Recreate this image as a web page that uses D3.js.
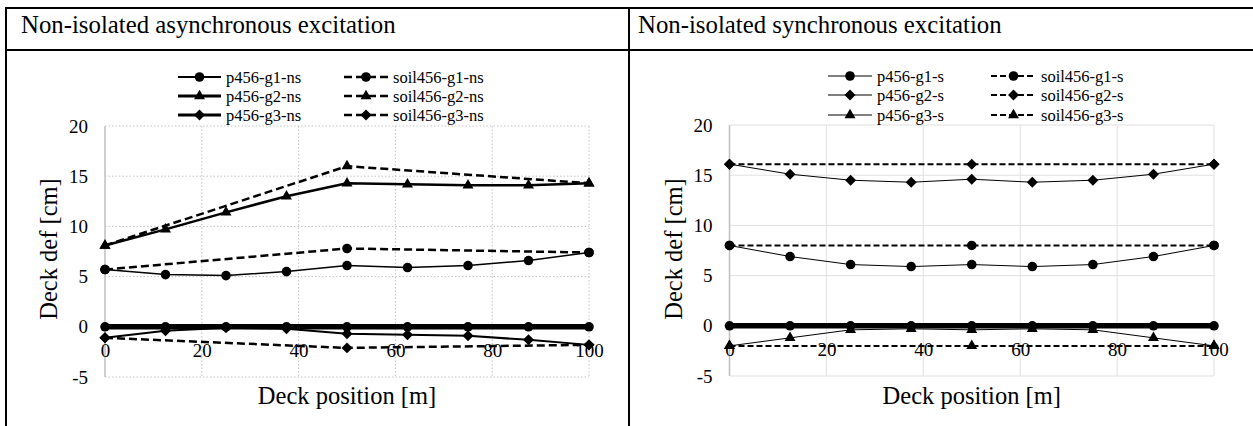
<!DOCTYPE html>
<html>
<head>
<meta charset="utf-8">
<script src="https://cdn.jsdelivr.net/npm/d3@7"></script>
<style>
  html, body { margin: 0; padding: 0; background: #fff; }
  svg { display: block; }
  svg text { font-family: "Liberation Serif", "Times New Roman", "DejaVu Serif", serif; fill: #000; }
</style>
</head>
<body>
<svg id="chart" width="1253" height="426"></svg>
<script>
// ---------- DATA ----------
const panelTitles = ["Non-isolated asynchronous excitation", "Non-isolated synchronous excitation"];
const deckPositions = [0, 12.5, 25, 37.5, 50, 62.5, 75, 87.5, 100];
const soilPositions = [0, 50, 100];
const xTicks = [0, 20, 40, 60, 80, 100];
const yTicks = [-5, 0, 5, 10, 15, 20];
const xTitle = "Deck position [m]";
const yTitle = "Deck def [cm]";

// asynchronous
const p456_g1_ns = [5.7, 5.2, 5.1, 5.5, 6.1, 5.9, 6.1, 6.6, 7.4];
const p456_g2_ns = [8.1, 9.7, 11.4, 13.0, 14.3, 14.2, 14.1, 14.1, 14.3];
const p456_g3_ns = [-1.1, -0.4, -0.1, -0.2, -0.7, -0.8, -0.9, -1.3, -1.8];
const soil456_g1_ns = [5.7, 7.8, 7.4];
const soil456_g2_ns = [8.1, 16.0, 14.3];
const soil456_g3_ns = [-1.1, -2.1, -1.8];
const zero_ns = [0, 0, 0, 0, 0, 0, 0, 0, 0];

// synchronous
const p456_g1_s = [8.0, 6.9, 6.1, 5.9, 6.1, 5.9, 6.1, 6.9, 8.0];
const p456_g2_s = [16.1, 15.1, 14.5, 14.3, 14.6, 14.3, 14.5, 15.1, 16.1];
const p456_g3_s = [-2.0, -1.2, -0.4, -0.3, -0.4, -0.3, -0.4, -1.2, -2.0];
const soil456_g1_s = [8.0, 8.0, 8.0];
const soil456_g2_s = [16.1, 16.1, 16.1];
const soil456_g3_s = [-2.0, -2.0, -2.0];
const zero_s = [0, 0, 0, 0, 0, 0, 0, 0, 0];

// ---------- DRAW ----------
const FONT = "Liberation Serif, Times New Roman, DejaVu Serif, serif";
const svg = d3.select("#chart");

// table borders
const tbl = svg.append("g");
const lineAttr = sel => sel.attr("stroke", "#000").attr("stroke-width", 2);
tbl.append("line").attr("x1", 6).attr("x2", 1253).attr("y1", 8).attr("y2", 8).call(lineAttr);
tbl.append("line").attr("x1", 6).attr("x2", 1253).attr("y1", 50).attr("y2", 50).call(lineAttr);
tbl.append("line").attr("x1", 6).attr("x2", 6).attr("y1", 7).attr("y2", 426).call(lineAttr);
tbl.append("line").attr("x1", 629).attr("x2", 629).attr("y1", 7).attr("y2", 426).call(lineAttr);

svg.append("text").attr("x", 21).attr("y", 33).attr("font-size", 24.8).attr("font-family", FONT).text(panelTitles[0]);
svg.append("text").attr("x", 638).attr("y", 33).attr("font-size", 24.8).attr("font-family", FONT).text(panelTitles[1]);

const diamondType = {
  draw(ctx, size) {
    const r = Math.sqrt(size / 2);
    ctx.moveTo(0, -r); ctx.lineTo(r, 0); ctx.lineTo(0, r); ctx.lineTo(-r, 0); ctx.closePath();
  }
};
const sym = {
  circle: d3.symbol().type(d3.symbolCircle).size(Math.PI * 4.8 * 4.8),
  triangle: d3.symbol().type(d3.symbolTriangle).size(52),
  diamond: d3.symbol().type(diamondType).size(60)
};

function drawPanel(cfg) {
  const x = d3.scaleLinear().domain([0, 100]).range([cfg.x0, cfg.x1]);
  const y = d3.scaleLinear().domain([-5, 20]).range([cfg.yBottom, cfg.yTop]);
  const g = svg.append("g");

  // grid
  const grid = g.append("g");
  grid.selectAll(".hg").data(yTicks).join("line")
    .attr("x1", cfg.x0).attr("x2", cfg.x1)
    .attr("y1", d => y(d)).attr("y2", d => y(d))
    .attr("stroke", cfg.gridColor).attr("stroke-width", 1)
    .attr("stroke-dasharray", cfg.gridDash);
  grid.selectAll(".vg").data(xTicks.filter(d => d !== 0)).join("line")
    .attr("x1", d => x(d)).attr("x2", d => x(d))
    .attr("y1", cfg.yTop).attr("y2", cfg.yBottom)
    .attr("stroke", cfg.gridColor).attr("stroke-width", 1)
    .attr("stroke-dasharray", cfg.gridDash);
  // y axis line
  g.append("line").attr("x1", x(0)).attr("x2", x(0)).attr("y1", cfg.yTop).attr("y2", cfg.yBottom)
    .attr("stroke", "#bfbfbf").attr("stroke-width", 1.5);

  // y tick labels
  const yAxis = g.append("g").attr("transform", `translate(${x(0)},0)`)
    .call(d3.axisLeft(y).tickValues(yTicks).tickSize(0).tickPadding(17).tickFormat(d => String(d)));
  yAxis.select(".domain").remove();
  yAxis.attr("font-family", FONT);
  yAxis.selectAll("text").attr("font-size", 19).attr("font-family", FONT);

  // series
  const line = (xs) => d3.line().x((d, i) => x(xs[i])).y(d => y(d));
  cfg.series.forEach(s => {
    const xs = s.xs;
    g.append("path").datum(s.values).attr("d", line(xs))
      .attr("fill", "none").attr("stroke", "#000").attr("stroke-width", s.width)
      .attr("stroke-dasharray", s.dash || null).attr("stroke-linejoin", "round");
    g.selectAll(null).data(s.values).join("path")
      .attr("d", sym[s.marker]())
      .attr("transform", (d, i) => `translate(${x(xs[i])},${y(d)})`)
      .attr("fill", "#000");
  });

  // x tick labels next to zero axis
  const xAxis = g.append("g").attr("transform", `translate(0,${y(0)})`)
    .call(d3.axisBottom(x).tickValues(xTicks).tickSize(0).tickPadding(17).tickFormat(d => String(d)));
  xAxis.select(".domain").remove();
  xAxis.attr("font-family", FONT);
  xAxis.selectAll("text").attr("font-size", 19).attr("font-family", FONT);

  // axis titles
  g.append("text").attr("x", (cfg.x0 + cfg.x1) / 2).attr("y", 404)
    .attr("text-anchor", "middle").attr("font-size", 24.5).attr("font-family", FONT).text(xTitle);
  g.append("text").attr("transform", `translate(${cfg.yTitleX},249) rotate(-90)`)
    .attr("text-anchor", "middle").attr("font-size", 24.5).attr("font-family", FONT).text(yTitle);

  // legend
  const lg = g.append("g");
  cfg.legend.forEach(item => {
    const s = item.s;
    lg.append("line").attr("x1", item.lx0).attr("x2", item.lx1).attr("y1", item.ly).attr("y2", item.ly)
      .attr("stroke", "#000").attr("stroke-width", item.lw).attr("stroke-dasharray", s.dash || null);
    lg.append("path").attr("d", sym[s.marker]())
      .attr("transform", `translate(${(item.lx0 + item.lx1) / 2},${item.ly})`).attr("fill", "#000");
    lg.append("text").attr("x", item.lx1 + 5).attr("y", item.ly + 5.5)
      .attr("font-size", 16.5).attr("font-family", FONT).text(s.name);
  });
}

// panel 1
(function () {
  const sG1 = { name: "p456-g1-ns", values: p456_g1_ns, xs: deckPositions, marker: "circle", width: 1.5 };
  const sG2 = { name: "p456-g2-ns", values: p456_g2_ns, xs: deckPositions, marker: "triangle", width: 2.5 };
  const sG3 = { name: "p456-g3-ns", values: p456_g3_ns, xs: deckPositions, marker: "diamond", width: 2 };
  const sS1 = { name: "soil456-g1-ns", values: soil456_g1_ns, xs: soilPositions, marker: "circle", width: 2.5, dash: "8,4" };
  const sS2 = { name: "soil456-g2-ns", values: soil456_g2_ns, xs: soilPositions, marker: "triangle", width: 2.5, dash: "8,4" };
  const sS3 = { name: "soil456-g3-ns", values: soil456_g3_ns, xs: soilPositions, marker: "diamond", width: 2.5, dash: "8,4" };
  const sZ = { name: "", values: zero_ns, xs: deckPositions, marker: "circle", width: 5.5 };
  const rows = [77, 96, 115];
  drawPanel({
    x0: 105, x1: 589, yTop: 126, yBottom: 377, yTitleX: 57,
    gridColor: "#c4c4c4", gridDash: "1.5,2",
    series: [sS1, sS2, sS3, sG1, sG2, sG3, sZ],
    legend: [
      { s: sG1, lx0: 178, lx1: 221, ly: rows[0], lw: 2 },
      { s: sG2, lx0: 178, lx1: 221, ly: rows[1], lw: 3 },
      { s: sG3, lx0: 178, lx1: 221, ly: rows[2], lw: 3 },
      { s: sS1, lx0: 344, lx1: 388, ly: rows[0], lw: 2.5 },
      { s: sS2, lx0: 344, lx1: 388, ly: rows[1], lw: 2.5 },
      { s: sS3, lx0: 344, lx1: 388, ly: rows[2], lw: 2.5 }
    ]
  });
})();

// panel 2
(function () {
  const sG1 = { name: "p456-g1-s", values: p456_g1_s, xs: deckPositions, marker: "circle", width: 1 };
  const sG2 = { name: "p456-g2-s", values: p456_g2_s, xs: deckPositions, marker: "diamond", width: 1 };
  const sG3 = { name: "p456-g3-s", values: p456_g3_s, xs: deckPositions, marker: "triangle", width: 1 };
  const sS1 = { name: "soil456-g1-s", values: soil456_g1_s, xs: soilPositions, marker: "circle", width: 2, dash: "6,3" };
  const sS2 = { name: "soil456-g2-s", values: soil456_g2_s, xs: soilPositions, marker: "diamond", width: 2, dash: "6,3" };
  const sS3 = { name: "soil456-g3-s", values: soil456_g3_s, xs: soilPositions, marker: "triangle", width: 2, dash: "6,3" };
  const sZ = { name: "", values: zero_s, xs: deckPositions, marker: "circle", width: 5.5 };
  const rows = [76, 95, 115];
  drawPanel({
    x0: 729.5, x1: 1214, yTop: 125, yBottom: 376, yTitleX: 682,
    gridColor: "#e0e0e0", gridDash: null,
    series: [sS1, sS2, sS3, sG1, sG2, sG3, sZ],
    legend: [
      { s: sG1, lx0: 828, lx1: 872, ly: rows[0], lw: 1 },
      { s: sG2, lx0: 828, lx1: 872, ly: rows[1], lw: 1 },
      { s: sG3, lx0: 828, lx1: 872, ly: rows[2], lw: 1 },
      { s: sS1, lx0: 991, lx1: 1036, ly: rows[0], lw: 2 },
      { s: sS2, lx0: 991, lx1: 1036, ly: rows[1], lw: 2 },
      { s: sS3, lx0: 991, lx1: 1036, ly: rows[2], lw: 2 }
    ]
  });
})();
</script>
</body>
</html>
